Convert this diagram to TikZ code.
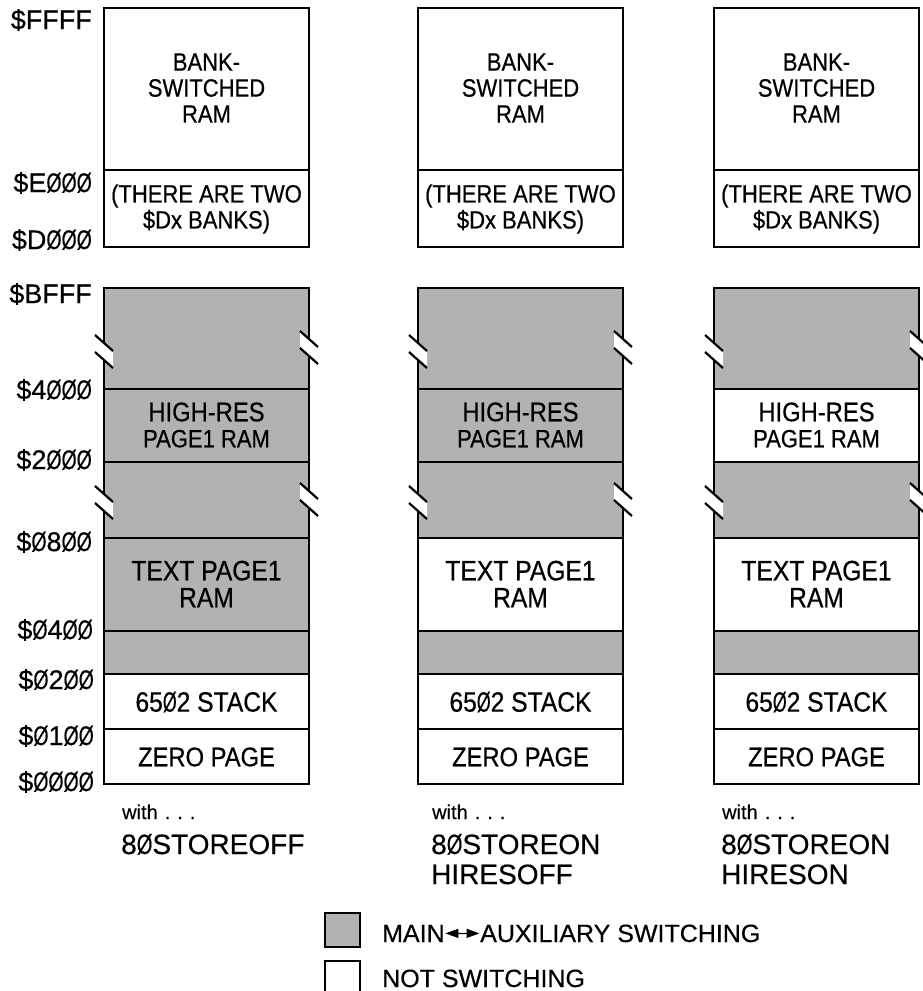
\documentclass[tikz,border=0pt]{standalone}
\usepackage{fontspec}
\setmainfont{Liberation Sans}[FakeBold=0.4]
\newfontfamily\condf[FakeStretch=0.88,FakeBold=0.5]{Liberation Sans}
\usetikzlibrary{arrows.meta}
\definecolor{halftone}{RGB}{178,178,178}
\newcommand{\Z}{\scalebox{0.72}[1]{Ø}}
\tikzset{
  outer/.style={line width=2.3pt},
  inner/.style={line width=1.4pt},
  boxtext/.style={font=\condf\fontsize{25}{26}\selectfont, align=center, inner sep=0pt},
  bigtext/.style={font=\condf\fontsize{28}{27}\selectfont, align=center, inner sep=0pt},
  zptext/.style={font=\condf\fontsize{27}{27}\selectfont, align=center, inner sep=0pt},
  addr/.style={font=\fontsize{27}{28}\selectfont, anchor=east, inner sep=0pt},
  cond/.style={font=\fontsize{28}{30}\selectfont, anchor=base west, inner sep=0pt},
  withtext/.style={font=\fontsize{20}{20}\selectfont, anchor=base west, inner sep=0pt},
  legtext/.style={font=\fontsize{25}{26}\selectfont, anchor=base west, inner sep=0pt},
  legbox/.style={draw, line width=1.8pt, minimum width=35pt, minimum height=34pt, inner sep=0pt},
  brk/.pic={
    \fill[white] (-9,-16) -- (9,0) -- (9,15) -- (-9,-1) -- cycle;
    \draw[line width=2.2pt, line cap=butt] (-9,-17) -- (9,-1) (-9,0) -- (9,16);
  }
}
\newcommand{\withdots}{with\hspace{7pt}.\hspace{7pt}.\hspace{7pt}.}
\begin{document}
\begin{tikzpicture}[x=1pt,y=-1pt]
\useasboundingbox (0,0) rectangle (923,991);
\fill[white] (0,0) rectangle (923,991);

% address labels
\node[addr] (aFFFF) at (92,20) {\$FFFF};
\node[addr] (aE000) at (92,183) {\$E\Z\Z\Z};
\node[addr] (aD000) at (92,240) {\$D\Z\Z\Z};
\node[addr] (aBFFF) at (92,294) {\$BFFF};
\node[addr] (a4000) at (92,390) {\$4\Z\Z\Z};
\node[addr] (a2000) at (92,460) {\$2\Z\Z\Z};
\node[addr] (a0800) at (92,542) {\$\Z8\Z\Z};
\node[addr] (a0400) at (93,630) {\$\Z4\Z\Z};
\node[addr] (a0200) at (94,680) {\$\Z2\Z\Z};
\node[addr] (a0100) at (94,736) {\$\Z1\Z\Z};
\node[addr] (a0000) at (94,782) {\$\Z\Z\Z\Z};

\foreach \L/\n/\hr/\tx in {104/a/1/1, 418/b/1/0, 714/c/0/0}{
  \pgfmathsetmacro\R{\L+205}
  \pgfmathsetmacro\M{\L+102.5}
  % fills
  \fill[halftone] (\L,288) rectangle (\R,674);
  \ifnum\hr=0 \fill[white] (\L,389) rectangle (\R,462); \fi
  \ifnum\tx=0 \fill[white] (\L,538) rectangle (\R,631); \fi
  % division lines
  \draw[inner] (\L,170) -- (\R,170);
  \foreach \yy in {389,462,538,631,674,729}{
    \draw[inner] (\L,\yy) -- (\R,\yy);
  }
  % outlines
  \draw[outer] (\L,8) rectangle (\R,247);
  \draw[outer] (\L,288) rectangle (\R,784);
  % break marks
  \pic at (\L,352) {brk};
  \pic at (\R,348) {brk};
  \pic at (\L,503) {brk};
  \pic at (\R,500) {brk};
  % texts
  \node[boxtext] (\n bank) at (\M,88) {BANK-\\SWITCHED\\RAM};
  \node[boxtext] (\n two) at (\M,209) {(THERE ARE TWO\\\$Dx BANKS)};
  \node[boxtext] (\n hr) at (\M,425) {{\fontsize{27}{26}\selectfont HIGH-RES}\\PAGE1 RAM};
  \node[bigtext] (\n tp) at (\M,584) {TEXT PAGE1\\RAM};
  \node[bigtext] (\n st) at (\M,702) {65\Z2 STACK};
  \node[zptext] (\n zp) at (\M,757) {ZERO PAGE};
}

% mode labels
\node[withtext] (w1) at (122,819) {\withdots};
\node[cond] (m1) at (121,854) {8\Z STOREOFF};
\node[withtext] (w2) at (432,819) {\withdots};
\node[cond] (m2) at (431,854) {8\Z STOREON};
\node[cond] (h2) at (431,884) {HIRESOFF};
\node[withtext] (w3) at (722,819) {\withdots};
\node[cond] (m3) at (721,854) {8\Z STOREON};
\node[cond] (h3) at (721,884) {HIRESON};

% legend
\node[legbox, fill=halftone] (lg1) at (342.5,930) {};
\node[legbox, fill=white, minimum height=40pt] (lg2) at (342.5,981) {};
\node[legtext] (lmain) at (382,942) {MAIN};
\node[legtext] (laux) at (480,942) {AUXILIARY SWITCHING};
\draw[{Triangle[length=13pt,width=9pt]}-{Triangle[length=13pt,width=9pt]}, line width=1.3pt]
  ([xshift=0.5pt]lmain.east) -- ([xshift=-0.5pt]laux.west);
\node[legtext] (lnot) at (382,987) {NOT SWITCHING};
\end{tikzpicture}
\end{document}
